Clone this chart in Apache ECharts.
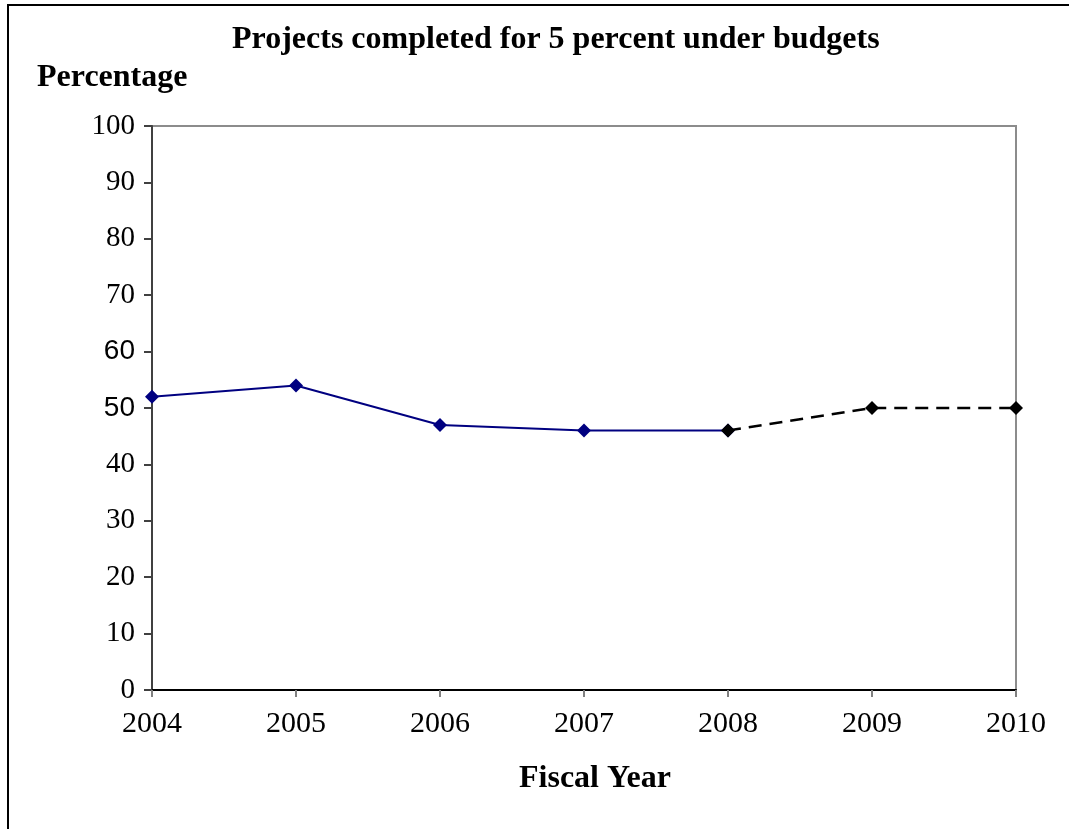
<!DOCTYPE html>
<html>
<head>
<meta charset="utf-8">
<script src="https://cdn.jsdelivr.net/npm/echarts@6/dist/echarts.min.js"></script>
<style>
  html, body { margin: 0; padding: 0; background: #fff; }
  #chart { width: 1069px; height: 829px; }
</style>
</head>
<body>
<div id="chart"></div>
<script>
const years = ['2004', '2005', '2006', '2007', '2008', '2009', '2010']
const actual = [52, 54, 47, 46, 46, null, null]
const projected = [null, null, null, null, 46, 50, 50]
const yTicks = [0, 10, 20, 30, 40, 50, 60, 70, 80, 90, 100]

const serif = 'Liberation Serif, Times New Roman, serif'
const chart = echarts.init(document.getElementById('chart'))

chart.setOption({
  animation: false,
  backgroundColor: '#fff',
  textStyle: { fontFamily: serif },
  title: [
    {
      text: 'Projects completed for 5 percent under budgets',
      left: 227, top: 19,
      textStyle: { fontFamily: serif, fontSize: 32, fontWeight: 'bold', color: '#000' }
    },
    {
      text: 'Percentage',
      left: 32, top: 57,
      textStyle: { fontFamily: serif, fontSize: 32, fontWeight: 'bold', color: '#000' }
    },
    {
      text: 'Fiscal Year',
      left: 514, top: 758,
      textStyle: { fontFamily: serif, fontSize: 32, fontWeight: 'bold', color: '#000' }
    }
  ],
  graphic: [
    {
      type: 'polyline',
      shape: { points: [[8, 829], [8, 5], [1069, 5]] },
      style: { stroke: '#000', lineWidth: 2, fill: null }
    }
  ],
  grid: {
    left: 152, right: 53, top: 126, bottom: 139,
    show: true, borderColor: '#8c8c8c', borderWidth: 2,
    containLabel: false
  },
  xAxis: {
    type: 'category',
    data: years,
    boundaryGap: false,
    axisLine: { lineStyle: { color: '#000', width: 2 } },
    axisTick: { show: true, length: 7, alignWithLabel: true, lineStyle: { color: '#808080', width: 2 } },
    axisLabel: { fontFamily: serif, fontSize: 30, color: '#000', margin: 19 },
    splitLine: { show: false }
  },
  yAxis: {
    type: 'value',
    min: yTicks[0], max: yTicks[yTicks.length - 1], interval: 10,
    axisLine: { show: true, lineStyle: { color: '#404040', width: 2 } },
    axisTick: { show: true, length: 8, lineStyle: { color: '#404040', width: 2 } },
    axisLabel: {
      fontFamily: serif, fontSize: 29, color: '#000', margin: 17,
      formatter: v => (v === 50 || v === 60) ? '{s|' + v + '}' : '{t|' + v + '}',
      rich: {
        t: { fontFamily: serif, fontSize: 29, color: '#000' },
        s: { fontFamily: 'Liberation Sans, Arial, sans-serif', fontSize: 28, color: '#000' }
      }
    },
    splitLine: { show: false }
  },
  series: [
    {
      name: 'Actual',
      type: 'line',
      data: actual,
      symbol: 'diamond',
      symbolSize: 14,
      color: '#000080',
      lineStyle: { color: '#000080', width: 2 },
      itemStyle: { color: '#000080' },
      z: 2
    },
    {
      name: 'Projected',
      type: 'line',
      data: projected,
      symbol: 'diamond',
      symbolSize: 14,
      color: '#000',
      lineStyle: { color: '#000', width: 2.5, type: [13, 8] },
      itemStyle: { color: '#000' },
      z: 3
    }
  ]
})
</script>
</body>
</html>
